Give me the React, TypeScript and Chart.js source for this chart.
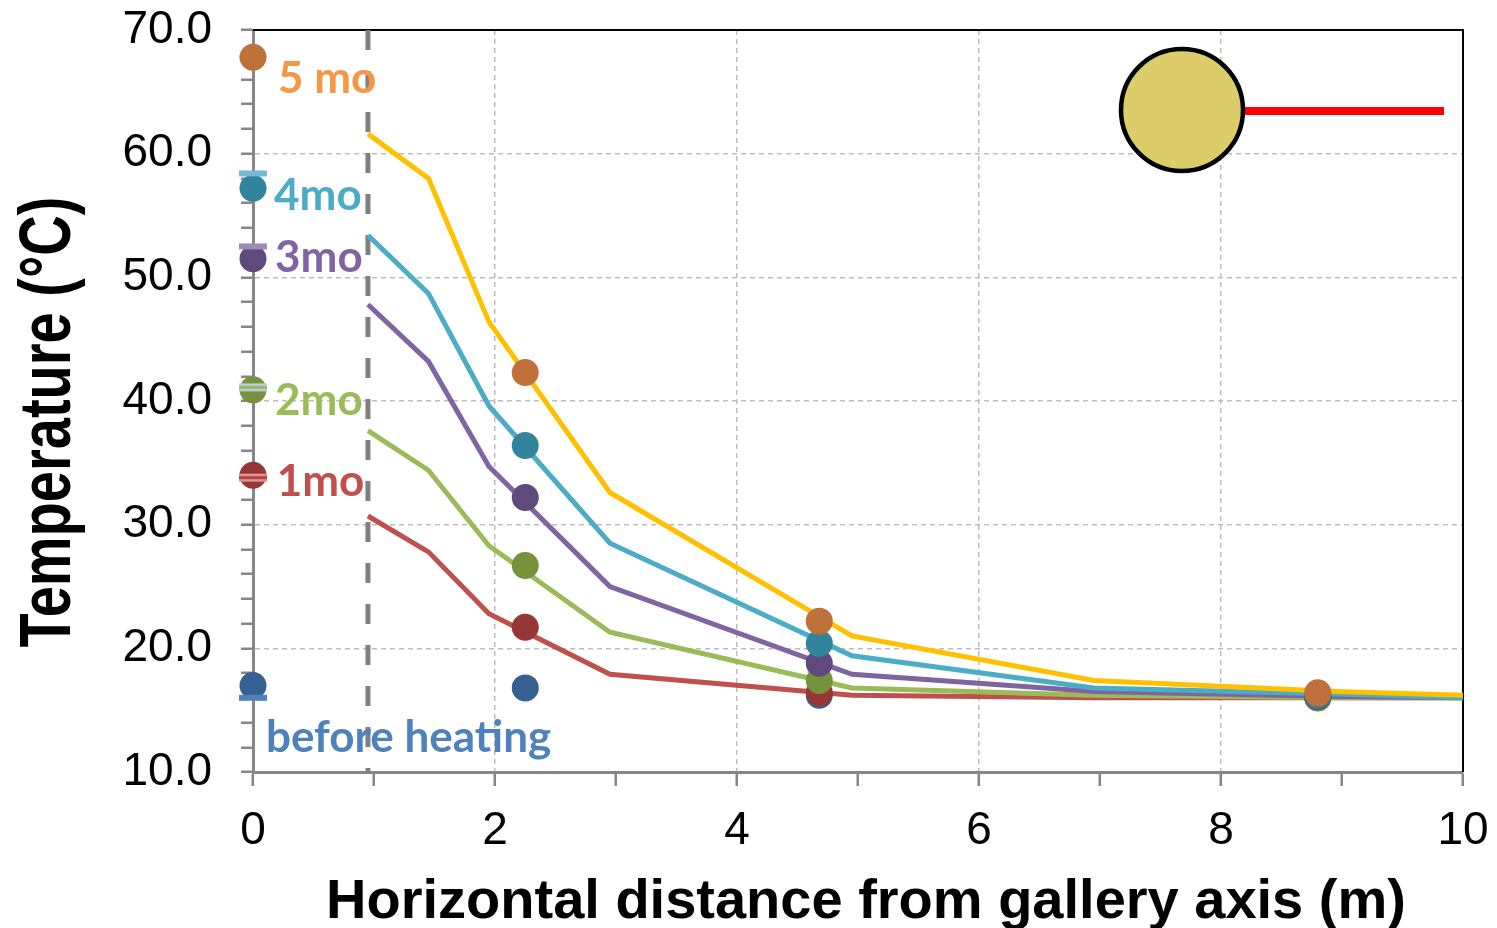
import React, { useEffect, useRef } from 'react';
import { Chart, registerables } from 'chart.js';

Chart.register(...registerables);

// ---- model curves (simulated) ----
const modelX = [0.95, 1.45, 1.95, 2.95, 4.95, 6.95, 8.95, 10];
const model5mo = [61.6, 58.0, 46.4, 32.6, 21.0, 17.4, 16.5, 16.2];
const model4mo = [53.4, 48.7, 39.6, 28.5, 19.4, 16.8, 16.3, 16.0];
const model3mo = [47.8, 43.2, 34.7, 25.0, 17.9, 16.5, 16.1, 16.0];
const model2mo = [37.6, 34.4, 28.3, 21.3, 16.8, 16.2, 16.0, 16.0];
const model1mo = [30.7, 27.8, 22.8, 17.9, 16.2, 16.0, 16.0, 16.0];

// ---- measured points ----
const measuredX = [0, 2.25, 4.68, 8.8];
const measured5mo = [67.8, 42.3, 22.2, 16.4];
const measured4mo = [57.2, 36.4, 20.4, 16.2];
const measured3mo = [51.5, 32.2, 18.8, 16.1];
const measured2mo = [40.9, 26.7, 17.4, 16.0];
const measured1mo = [34.0, 21.7, 16.4, 16.0];
const measuredBefore = [17.0, 16.8, 16.2, 16.0];

// ---- wall sensor readings at x = 0 ----
const sensorX = [0];
const sensor4mo = [58.4];
const sensor3mo = [52.5];
const sensor2mo = [41.1];
const sensor1mo = [33.8];
const sensorBefore = [16.0];

// ---- gallery boundary ----
const boundaryX = [0.95, 0.95];
const boundaryY = [70, 10];

// ---- ticks ----
const xTickValues = [0, 2, 4, 6, 8, 10];
const xTickLabels = ['0', '2', '4', '6', '8', '10'];
const yTickValues = [10, 20, 30, 40, 50, 60, 70];
const yTickLabels = ['10.0', '20.0', '30.0', '40.0', '50.0', '60.0', '70.0'];

const seriesLabels = [
  { text: '5 mo', x: 0.207, y: 64.9, color: '#F79646' },
  { text: '4mo', x: 0.174, y: 55.45, color: '#4BACC6' },
  { text: '3mo', x: 0.182, y: 50.46, color: '#8064A2' },
  { text: '2mo', x: 0.182, y: 38.87, color: '#9BBB59' },
  { text: '1mo', x: 0.196, y: 32.32, color: '#C0504D' },
  { text: 'before heating', x: 0.107, y: 11.62, color: '#4F81BD' },
];

const AXIS_FONT = '"Liberation Sans", Arial, sans-serif';
const LABEL_FONT = 'Lato, "Open Sans", sans-serif';

const pts = (xs: number[], ys: number[]) => xs.map((x, i) => ({ x, y: ys[i] }));

export default function App() {
  const ref = useRef<HTMLCanvasElement>(null);

  useEffect(() => {
    const canvas = ref.current;
    if (!canvas) return;

    const lineDs = (label: string, ys: number[], color: string, order: number) => ({
      label,
      data: pts(modelX, ys),
      borderColor: color,
      backgroundColor: color,
      borderWidth: 5,
      pointRadius: 0,
      pointHoverRadius: 0,
      tension: 0,
      fill: false,
      order,
    });
    const markerDs = (label: string, ys: number[], color: string, order: number) => ({
      label,
      data: pts(measuredX, ys),
      showLine: false,
      backgroundColor: color,
      borderColor: color,
      pointBackgroundColor: color,
      pointBorderWidth: 0,
      pointRadius: 13.5,
      pointHoverRadius: 13.5,
      clip: false,
      order,
    });
    const dashDs = (label: string, ys: number[], color: string, width: number, order: number) => ({
      label,
      data: pts(sensorX, ys),
      showLine: false,
      pointStyle: 'line',
      pointRadius: 14,
      pointHoverRadius: 14,
      pointBorderColor: color,
      borderColor: color,
      pointBorderWidth: width,
      clip: false,
      order,
    });

    const frame = {
      id: 'frame',
      beforeDatasetsDraw(chart: any) {
        const { ctx, chartArea: a } = chart;
        ctx.save();
        ctx.strokeStyle = '#000';
        ctx.lineWidth = 2;
        ctx.beginPath();
        ctx.moveTo(a.left, a.top);
        ctx.lineTo(a.right, a.top);
        ctx.lineTo(a.right, a.bottom);
        ctx.stroke();
        ctx.restore();
      },
    };

    const annotations = {
      id: 'annotations',
      afterDatasetsDraw(chart: any) {
        const { ctx, chartArea: a, scales } = chart;
        const xs = scales.x;
        const ys = scales.y;
        ctx.save();
        // series labels
        ctx.font = `bold 44px ${LABEL_FONT}`;
        ctx.textAlign = 'left';
        ctx.textBaseline = 'alphabetic';
        for (const l of seriesLabels) {
          ctx.fillStyle = l.color;
          ctx.fillText(l.text, xs.getPixelForValue(l.x), ys.getPixelForValue(l.y));
        }
        // gallery icon
        const cx = a.right - 281;
        const cy = a.top + 80;
        ctx.strokeStyle = '#FF0000';
        ctx.lineWidth = 8;
        ctx.beginPath();
        ctx.moveTo(cx + 62, cy + 1);
        ctx.lineTo(a.right - 19, cy + 1);
        ctx.stroke();
        ctx.beginPath();
        ctx.arc(cx, cy, 61, 0, Math.PI * 2);
        ctx.fillStyle = '#DDCD6A';
        ctx.fill();
        ctx.lineWidth = 4.5;
        ctx.strokeStyle = '#000';
        ctx.stroke();
        // axis titles
        ctx.fillStyle = '#000';
        ctx.font = `bold 56px ${AXIS_FONT}`;
        ctx.textAlign = 'center';
        ctx.textBaseline = 'alphabetic';
        ctx.fillText('Horizontal distance from gallery axis (m)', (a.left + a.right) / 2 + 8, a.bottom + 146);
        ctx.save();
        ctx.translate(70, (a.top + a.bottom) / 2 + 21);
        ctx.rotate(-Math.PI / 2);
        ctx.scale(1, 1.3);
        ctx.fillText('Temperature (\u00B0C)', 0, 0);
        ctx.restore();
        ctx.restore();
      },
    };

    const chart = new Chart(canvas, {
      type: 'line',
      data: {
        datasets: [
          dashDs('sensor before', sensorBefore, '#4F81BD', 6, 10),
          dashDs('sensor 1mo inner', sensor1mo, '#B5433F', 3, 11),
          dashDs('sensor 1mo', sensor1mo, '#D99694', 8, 12),
          dashDs('sensor 2mo inner', sensor2mo, '#9BBB59', 3, 13),
          dashDs('sensor 2mo', sensor2mo, '#B9CDE5', 8, 14),
          dashDs('sensor 3mo', sensor3mo, '#9D8BB8', 6, 15),
          dashDs('sensor 4mo', sensor4mo, '#78B9D2', 6, 16),
          markerDs('measured 5mo', measured5mo, '#C0703A', 25),
          markerDs('measured 4mo', measured4mo, '#31849B', 26),
          markerDs('measured 3mo', measured3mo, '#604A7B', 27),
          markerDs('measured 2mo', measured2mo, '#76923C', 28),
          markerDs('measured 1mo', measured1mo, '#953735', 29),
          markerDs('before heating', measuredBefore, '#376092', 30),
          lineDs('model 5mo', model5mo, '#FFC000', 50),
          lineDs('model 4mo', model4mo, '#4BACC6', 51),
          lineDs('model 3mo', model3mo, '#8064A2', 52),
          lineDs('model 2mo', model2mo, '#9BBB59', 53),
          lineDs('model 1mo', model1mo, '#C0504D', 54),
          {
            label: 'gallery wall',
            data: pts(boundaryX, boundaryY),
            borderColor: '#808080',
            borderWidth: 5,
            borderDash: [20, 21],
            pointRadius: 0,
            pointHoverRadius: 0,
            order: 100,
          },
        ] as any,
      },
      plugins: [frame, annotations],
      options: {
        animation: false,
        responsive: false,
        events: [],
        layout: { padding: { top: 30, right: 34, left: 0, bottom: 0 } },
        plugins: {
          legend: { display: false },
          tooltip: { enabled: false },
        },
        scales: {
          x: {
            type: 'linear',
            min: 0,
            max: 10,
            afterFit: (s: any) => {
              s.height = 156;
              s.paddingLeft = 0;
              s.paddingRight = 0;
            },
            ticks: {
              stepSize: 1,
              autoSkip: false,
              maxRotation: 0,
              color: '#000',
              padding: 18,
              font: { family: AXIS_FONT, size: 46 },
              callback: (v: any) => {
                const i = xTickValues.indexOf(Number(v));
                return i >= 0 ? xTickLabels[i] : '';
              },
            },
            grid: {
              color: (c: any) => {
                const v = c.tick ? c.tick.value : -1;
                return v % 2 === 0 && v > 0 && v < 10 ? '#BDBDBD' : 'rgba(0,0,0,0)';
              },
              lineWidth: 1.5,
              tickColor: '#868686',
              tickLength: 14,
              tickWidth: 2.5,
            },
            border: { display: true, color: '#868686', width: 3, dash: [5, 4] },
          },
          y: {
            type: 'linear',
            min: 10,
            max: 70,
            afterFit: (s: any) => {
              s.width = 253;
              s.paddingTop = 0;
              s.paddingBottom = 0;
            },
            ticks: {
              stepSize: 2,
              autoSkip: false,
              color: '#000',
              padding: 29,
              font: { family: AXIS_FONT, size: 46 },
              callback: (v: any) => {
                const i = yTickValues.indexOf(Number(v));
                return i >= 0 ? yTickLabels[i] : '';
              },
            },
            grid: {
              color: (c: any) => {
                const v = c.tick ? c.tick.value : -1;
                return v % 10 === 0 && v > 10 && v < 70 ? '#BDBDBD' : 'rgba(0,0,0,0)';
              },
              lineWidth: 1.5,
              tickColor: '#868686',
              tickLength: 12,
              tickWidth: 2.5,
            },
            border: { display: true, color: '#868686', width: 3, dash: [5, 4] },
          },
        },
      } as any,
    });

    return () => chart.destroy();
  }, []);

  return (
    <div style={{ position: 'fixed', left: 0, top: 0, width: 1497, height: 928, background: '#fff' }}>
      <canvas ref={ref} width={1497} height={928} style={{ display: 'block' }} />
    </div>
  );
}
